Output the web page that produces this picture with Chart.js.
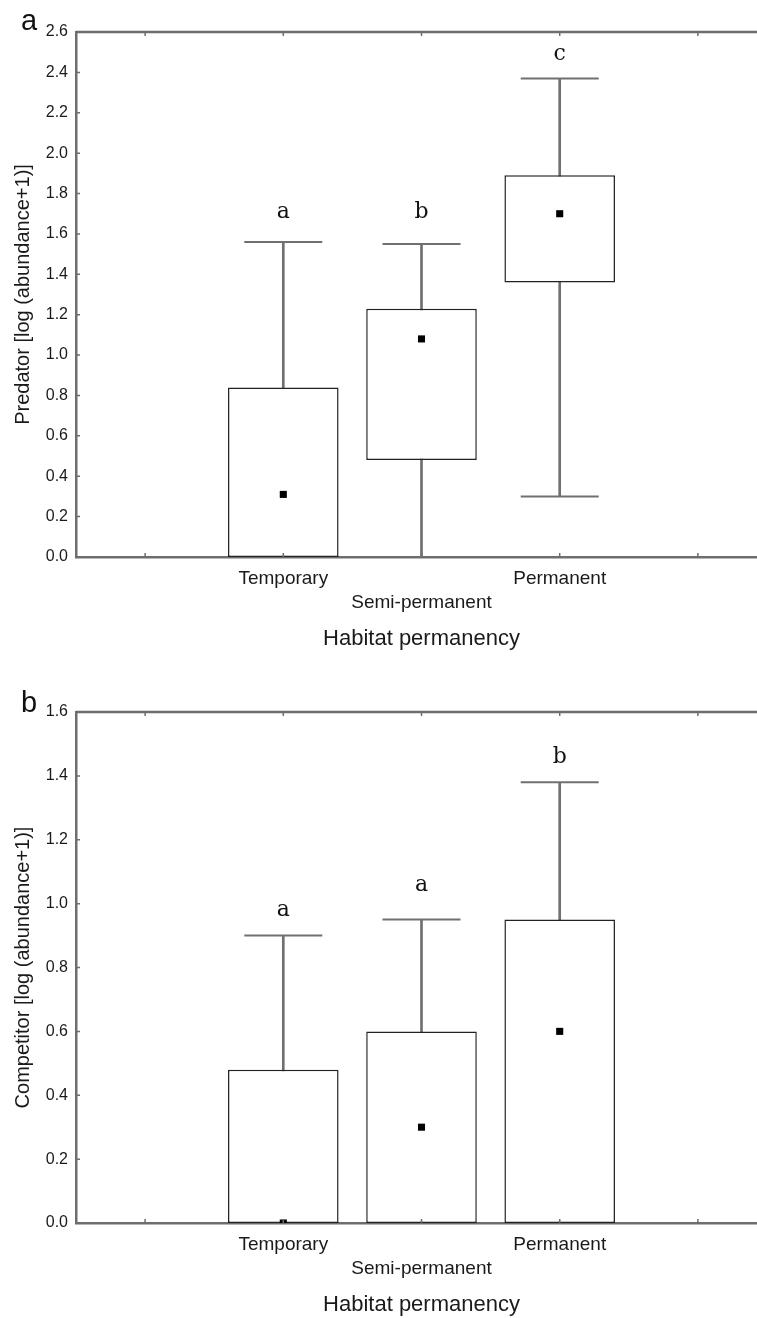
<!DOCTYPE html>
<html>
<head>
<meta charset="utf-8">
<script src="https://cdn.jsdelivr.net/npm/chart.js@4.4.0/dist/chart.umd.min.js"></script>
<style>
html, body { margin: 0; padding: 0; background: #fff; width: 757px; height: 1318px; overflow: hidden; }
canvas { display: block; }
</style>
</head>
<body>
<canvas id="predChart" width="767" height="652"></canvas>
<canvas id="compChart" width="767" height="666"></canvas>
<script>
// categories
var habitats = ['Temporary', 'Semi-permanent', 'Permanent'];

// panel a - predators
var predWhiskerLow = [0, 0, 0.30];
var predBoxLow = [0, 0.48, 1.36];
var predBoxHigh = [0.84, 1.23, 1.89];
var predWhiskerHigh = [1.56, 1.55, 2.37];
var predMedian = [0.31, 1.08, 1.70];
var predLetters = ['a', 'b', 'c'];
var predLetterY = [1.68, 1.68, 2.46];

// panel b - competitors
var compWhiskerLow = [0, 0, 0];
var compBoxLow = [0, 0, 0];
var compBoxHigh = [0.48, 0.60, 0.95];
var compWhiskerHigh = [0.90, 0.95, 1.38];
var compMedian = [0.0, 0.30, 0.60];
var compLetters = ['a', 'a', 'b'];
var compLetterY = [0.96, 1.04, 1.44];

var axisColor = '#6e6e6e';
var whiskerColor = '#707070';
var boxColor = '#222';
var textColor = '#1a1a1a';

Chart.defaults.font.family = "'Liberation Sans', Arial, sans-serif";

// one empty slot each side so the axis runs from -1.5 to 3.5 like the original
var xLabels = ['', habitats[0], ['', habitats[1]], habitats[2], ''];

function pad(arr) {
	return [null].concat(arr, [null]);
}

var panelDecor = {
	id: 'panelDecor',
	afterDatasetsDraw: function (chart, args, opts) {
		var ctx = chart.ctx;
		var ca = chart.chartArea;
		var x = chart.scales.x;
		var y = chart.scales.y;
		ctx.save();
		ctx.strokeStyle = axisColor;
		ctx.lineWidth = 2.5;
		ctx.beginPath();
		ctx.moveTo(ca.left, ca.top);
		ctx.lineTo(ca.right, ca.top);
		ctx.stroke();

		// small inner tick marks
		ctx.lineWidth = 1.5;
		ctx.beginPath();
		x.ticks.forEach(function (t, i) {
			var px = x.getPixelForTick(i);
			ctx.moveTo(px, ca.top);
			ctx.lineTo(px, ca.top + 4);
			ctx.moveTo(px, ca.bottom);
			ctx.lineTo(px, ca.bottom - 4);
		});
		y.ticks.forEach(function (t, i) {
			var py = y.getPixelForTick(i);
			ctx.moveTo(ca.left, py);
			ctx.lineTo(ca.left + 4, py);
		});
		ctx.stroke();

		// significance letters
		ctx.fillStyle = '#111';
		ctx.font = "22px 'DejaVu Serif', 'Liberation Serif', serif";
		ctx.textAlign = 'center';
		ctx.textBaseline = 'alphabetic';
		opts.letters.forEach(function (s, i) {
			ctx.fillText(s, x.getPixelForValue(i + 1), y.getPixelForValue(opts.letterY[i]));
		});

		// panel tag
		ctx.font = "29px 'Liberation Sans', Arial, sans-serif";
		ctx.textAlign = 'left';
		ctx.fillText(opts.tag, 21, opts.tagBaseline);
		ctx.restore();
	}
};

function buildPanel(id, o) {
	return new Chart(document.getElementById(id), {
		type: 'bar',
		data: {
			labels: xLabels,
			datasets: [
				{
					type: 'line',
					data: pad(o.median),
					showLine: false,
					pointStyle: 'rect',
					pointRadius: 5,
					pointBackgroundColor: '#000',
					pointBorderWidth: 0,
					order: 0
				},
				{
					type: 'line',
					data: pad(o.whiskerHigh),
					showLine: false,
					pointStyle: 'line',
					pointRadius: 39,
					pointBorderColor: whiskerColor,
					pointBorderWidth: 2,
					order: 1
				},
				{
					type: 'line',
					data: pad(o.whiskerLow.map(function (v) { return v > 0 ? v : null; })),
					showLine: false,
					pointStyle: 'line',
					pointRadius: 39,
					pointBorderColor: whiskerColor,
					pointBorderWidth: 2,
					order: 1
				},
				{
					data: pad(o.boxLow.map(function (v, i) { return [v, o.boxHigh[i]]; })),
					backgroundColor: '#fff',
					borderColor: boxColor,
					borderWidth: 1.5,
					borderSkipped: false,
					grouped: false,
					barPercentage: 0.8,
					categoryPercentage: 1,
					order: 2
				},
				{
					data: pad(o.whiskerLow.map(function (v, i) { return [v, o.whiskerHigh[i]]; })),
					backgroundColor: whiskerColor,
					borderWidth: 0,
					grouped: false,
					barThickness: 2,
					order: 3
				}
			]
		},
		options: {
			responsive: false,
			animation: false,
			events: [],
			layout: { autoPadding: false, padding: { top: o.top, left: 0, right: 0, bottom: 0 } },
			plugins: {
				legend: { display: false },
				tooltip: { enabled: false },
				panelDecor: { letters: o.letters, letterY: o.letterY, tag: o.tag, tagBaseline: o.tagBaseline }
			},
			scales: {
				x: {
					offset: true,
					grid: { display: false, drawTicks: false },
					border: { display: true, color: axisColor, width: 2.5 },
					ticks: {
						color: textColor,
						font: { size: 19, lineHeight: 1.3 },
						padding: 9,
						maxRotation: 0,
						autoSkip: false
					},
					title: {
						display: true,
						text: 'Habitat permanency',
						color: textColor,
						font: { size: 22, lineHeight: 1.2 },
						padding: 0
					},
					afterFit: function (s) {
						s.height = 95;
						s.paddingLeft = 0;
						s.paddingRight = 0;
					}
				},
				y: {
					min: 0,
					max: o.max,
					grid: { display: false, drawTicks: false },
					border: { display: true, color: axisColor, width: 2.5 },
					ticks: {
						stepSize: 0.2,
						color: textColor,
						font: { size: 16 },
						padding: 8,
						callback: function (v) { return Number(v).toFixed(1); }
					},
					title: {
						display: true,
						text: o.yTitle,
						color: textColor,
						font: { size: 20, lineHeight: 1.2 },
						padding: { top: 11, bottom: 0 }
					},
					afterFit: function (s) { s.width = 76; }
				}
			}
		},
		plugins: [panelDecor]
	});
}

buildPanel('predChart', {
	whiskerLow: predWhiskerLow,
	boxLow: predBoxLow,
	boxHigh: predBoxHigh,
	whiskerHigh: predWhiskerHigh,
	median: predMedian,
	letters: predLetters,
	letterY: predLetterY,
	max: 2.6,
	top: 32,
	tag: 'a',
	tagBaseline: 30,
	yTitle: 'Predator [log (abundance+1)]'
});

buildPanel('compChart', {
	whiskerLow: compWhiskerLow,
	boxLow: compBoxLow,
	boxHigh: compBoxHigh,
	whiskerHigh: compWhiskerHigh,
	median: compMedian,
	letters: compLetters,
	letterY: compLetterY,
	max: 1.6,
	top: 60,
	tag: 'b',
	tagBaseline: 60,
	yTitle: 'Competitor [log (abundance+1)]'
});
</script>
</body>
</html>
